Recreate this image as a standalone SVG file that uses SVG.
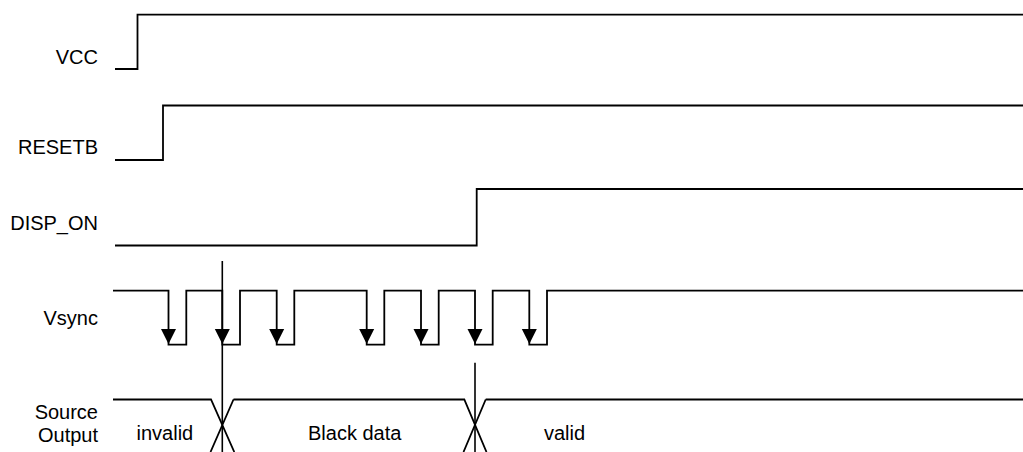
<svg xmlns="http://www.w3.org/2000/svg" width="1023" height="452" viewBox="0 0 1023 452">
<style>
.sig{fill:none;stroke:#000;stroke-width:1.8;stroke-linejoin:miter}
.con{fill:none;stroke:#000;stroke-width:1.6}
.lbl{font-family:"Liberation Sans",Arial,sans-serif;font-size:20px;fill:#000}
.r{text-anchor:end}
</style>
<defs>
<polygon id="ah" points="-7.5,329 7.5,329 0,344" fill="#000"/>
</defs>
<rect width="1023" height="452" fill="#fff"/>
<g id="vcc">
<path class="sig" d="M115,69 H137.5 V14.7 H1023"/>
<text class="lbl r" x="98" y="63.5">VCC</text>
</g>
<g id="resetb">
<path class="sig" d="M115,160 H163 V105.5 H1023"/>
<text class="lbl r" x="98" y="153.5">RESETB</text>
</g>
<g id="disp_on">
<path class="sig" d="M115,245.5 H476.7 V189 H1023"/>
<text class="lbl r" x="98" y="229.5">DISP_ON</text>
</g>
<g id="vsync">
<path class="sig" d="M113,290.7 H168.5 V344.7 H186.3 V290.7 H222.3 V344.7 H240 V290.7 H276.7 V344.7 H294.3 V290.7 H366.7 V344.7 H384.3 V290.7 H421 V344.7 H438.7 V290.7 H475 V344.7 H492.7 V290.7 H529.3 V344.7 H547 V290.7 H1023"/>
<use href="#ah" x="168.5"/>
<use href="#ah" x="222.3"/>
<use href="#ah" x="276.7"/>
<use href="#ah" x="366.7"/>
<use href="#ah" x="421"/>
<use href="#ah" x="475"/>
<use href="#ah" x="529.3"/>
<text class="lbl r" x="98" y="325">Vsync</text>
</g>
<g id="source_output">
<path class="sig" d="M113,399.5 H211 L234.3,452 M233.5,399.5 L210.5,452 M233.5,399.5 H464.3 L486.5,452 M485.7,399.5 L463.5,452 M485.7,399.5 H1023"/>
<text class="lbl r" x="98" y="419">Source</text>
<text class="lbl r" x="98" y="441.5">Output</text>
<text class="lbl" x="136.5" y="440">invalid</text>
<text class="lbl" x="308" y="440">Black data</text>
<text class="lbl" x="544" y="440">valid</text>
</g>
<g id="connectors">
<line class="con" x1="222.3" y1="261" x2="222.3" y2="452"/>
<line class="con" x1="475" y1="362.7" x2="475" y2="452"/>
</g>
</svg>
